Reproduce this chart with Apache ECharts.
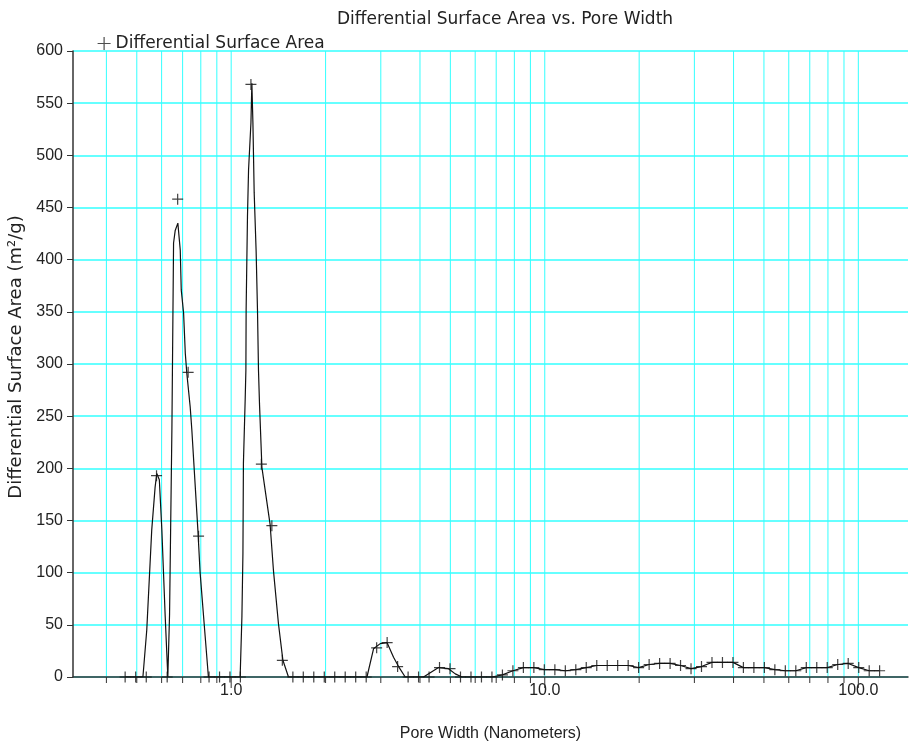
<!DOCTYPE html>
<html>
<head>
<meta charset="utf-8">
<script src="https://cdn.jsdelivr.net/npm/echarts@6/dist/echarts.min.js"></script>
<style>
html, body { margin: 0; padding: 0; background: #fff; }
#chart { width: 910px; height: 742px; }
</style>
</head>
<body>
<div id="chart"></div>
<script>
// pore width (nm) of each "+" marker
const markerWidth = [
  0.459, 0.496, 0.536, 0.578, 0.625, 0.675, 0.729, 0.787, 0.850, 0.918,
  0.991, 1.070, 1.156, 1.248, 1.348, 1.456, 1.573, 1.698, 1.834, 1.981,
  2.139, 2.310, 2.495, 2.695, 2.910, 3.143, 3.394, 3.666, 3.959, 4.276,
  4.617, 4.987, 5.386, 5.817, 6.283, 6.785, 7.328, 7.914, 8.547, 9.231,
  9.968, 10.77, 11.63, 12.56, 13.56, 14.65, 15.82, 17.08, 18.45, 19.92,
  21.52, 23.24, 25.10, 27.10, 29.27, 31.61, 34.14, 36.87, 39.82, 43.00,
  46.44, 50.16, 54.17, 58.50, 63.18, 68.23, 73.69, 79.58, 85.95, 92.83,
  100.3, 108.3, 116.9
]
// differential surface area (m²/g) at each marker
const markerArea = [
  0, 0, 0, 193, 0, 458, 292, 135, 0, 0,
  0, 0, 568, 204, 145, 16, 0, 0, 0, 0,
  0, 0, 0, 0, 28, 33, 10, 0, 0, 0,
  9, 8, 0, 0, 0, 0, 2, 6, 9, 9,
  7, 7, 6, 7, 9, 11, 11, 11, 11, 9,
  12, 13, 13, 11, 8, 10, 14, 14, 14, 9,
  9, 9, 7, 6, 6, 9, 9, 9, 12, 13,
  9, 6, 6
]
// the drawn curve through the peaks (below 6.8 nm)
const curveWidth = [
  0.459, 0.523, 0.538, 0.558, 0.572, 0.579, 0.590, 0.601, 0.616, 0.628,
  0.631, 0.636, 0.647, 0.655, 0.663, 0.676, 0.688, 0.693, 0.705, 0.714,
  0.722, 0.740, 0.749, 0.783, 0.796, 0.826, 0.846,
  1.068, 1.082, 1.090, 1.094, 1.108, 1.114, 1.116, 1.127, 1.136, 1.156,
  1.164, 1.173, 1.184, 1.201, 1.213, 1.222, 1.231, 1.253, 1.331, 1.364,
  1.415, 1.462, 1.523,
  2.710, 2.844, 2.988, 3.140, 3.294, 3.418, 3.589,
  4.106, 4.313, 4.585, 4.933, 5.183, 5.443, 6.785
]
const curveArea = [
  0, 0, 45, 141, 182, 195, 189, 141, 58, 0,
  0, 60, 237, 416, 428, 435, 409, 371, 349, 310,
  291, 259, 237, 141, 100, 39, 0,
  0, 58, 118, 205, 265, 294, 352, 441, 486, 531,
  569, 531, 464, 408, 352, 294, 262, 201, 146, 102,
  51, 16, 0,
  0, 27, 32, 33, 19, 10, 0,
  0, 4, 9, 8, 3, 0, 0
]
// vertical grid lines / x ticks
const gridTicks = [
  0.4, 0.5, 0.6, 0.7, 0.8, 0.9,
  1, 2, 3, 4, 5, 6, 7, 8, 9,
  10, 20, 30, 40, 50, 60, 70, 80, 90, 100
]
const decadeTicks = [1, 10, 100]

const chart = echarts.init(document.getElementById('chart'))

const markerData = markerWidth.map((w, i) => [w, markerArea[i]])
const lineData = curveWidth.map((w, i) => [w, curveArea[i]])
  .concat(markerData.filter(d => d[0] > 7))

const font = '"Liberation Sans", Arial, sans-serif'
const wideFont = '"DejaVu Sans", Verdana, sans-serif'
const plusSymbol = 'path://M0,5L10,5M5,0L5,10'

chart.setOption({
  animation: false,
  backgroundColor: '#fff',
  textStyle: { fontFamily: font, color: '#222' },
  title: {
    text: 'Differential Surface Area vs. Pore Width',
    left: 332,
    top: 6,
    textStyle: { fontSize: 17, fontWeight: 'normal', color: '#222', fontFamily: wideFont }
  },
  legend: {
    left: 92,
    top: 30,
    itemWidth: 13,
    itemHeight: 13,
    data: [{ name: 'Differential Surface Area', icon: plusSymbol }],
    textStyle: { fontSize: 17, color: '#222', fontFamily: wideFont },
    itemStyle: { color: 'transparent', borderColor: '#222', borderWidth: 1.2 }
  },
  grid: { left: 73, right: 2, top: 51, bottom: 65, outerBoundsMode: 'none', containLabel: false },
  xAxis: {
    type: 'log',
    logBase: 10,
    min: 0.313,
    max: 144,
    name: 'Pore Width (Nanometers)',
    nameLocation: 'middle',
    nameGap: 49,
    nameTextStyle: { fontSize: 16, color: '#222', fontFamily: font },
    axisLine: { lineStyle: { color: '#333', width: 1.5 } },
    axisTick: { show: false },
    splitLine: { show: false },
    minorTick: { show: false },
    axisLabel: {
      fontSize: 16,
      color: '#222',
      margin: 6,
      showMinLabel: false,
      showMaxLabel: false,
      formatter: v => (decadeTicks.some(d => Math.abs(d - v) < 1e-6) ? v.toFixed(1) : '')
    }
  },
  yAxis: {
    type: 'value',
    min: 0,
    max: 600,
    interval: 50,
    name: 'Differential Surface Area (m²/g)',
    nameLocation: 'middle',
    nameGap: 27,
    nameTextStyle: { fontSize: 18, color: '#222', fontFamily: wideFont, padding: [0, 0, 0, 14] },
    axisLine: { show: true, lineStyle: { color: '#333', width: 1.5 } },
    axisTick: { show: true, length: 6, lineStyle: { color: '#333' } },
    axisLabel: { fontSize: 16, color: '#222', margin: 10 },
    splitLine: { lineStyle: { color: '#3ff', width: 1.5 } }
  },
  series: [
    {
      type: 'custom',
      z: 1,
      silent: true,
      encode: { x: 0, y: 1 },
      data: gridTicks.map(v => [v, 0]),
      renderItem(params, api) {
        const v = api.value(0)
        const bottom = api.coord([v, 0])
        const top = api.coord([v, 600])
        const major = decadeTicks.indexOf(v) >= 0
        return {
          type: 'group',
          children: [
            {
              type: 'line',
              shape: { x1: bottom[0], y1: top[1], x2: bottom[0], y2: bottom[1] - 1 },
              style: { stroke: '#3ff', lineWidth: 1 }
            },
            {
              type: 'line',
              shape: { x1: bottom[0], y1: bottom[1], x2: bottom[0], y2: bottom[1] + (major ? 11 : 6) },
              style: { stroke: '#333', lineWidth: 1 }
            }
          ]
        }
      }
    },
    {
      type: 'line',
      z: 3,
      data: lineData,
      showSymbol: false,
      symbol: 'none',
      smooth: false,
      lineStyle: { color: '#111', width: 1.2 }
    },
    {
      name: 'Differential Surface Area',
      type: 'scatter',
      z: 4,
      data: markerData,
      symbol: plusSymbol,
      symbolSize: 11,
      itemStyle: { color: 'transparent', borderColor: '#111', borderWidth: 1.2 }
    }
  ]
})
</script>
</body>
</html>
